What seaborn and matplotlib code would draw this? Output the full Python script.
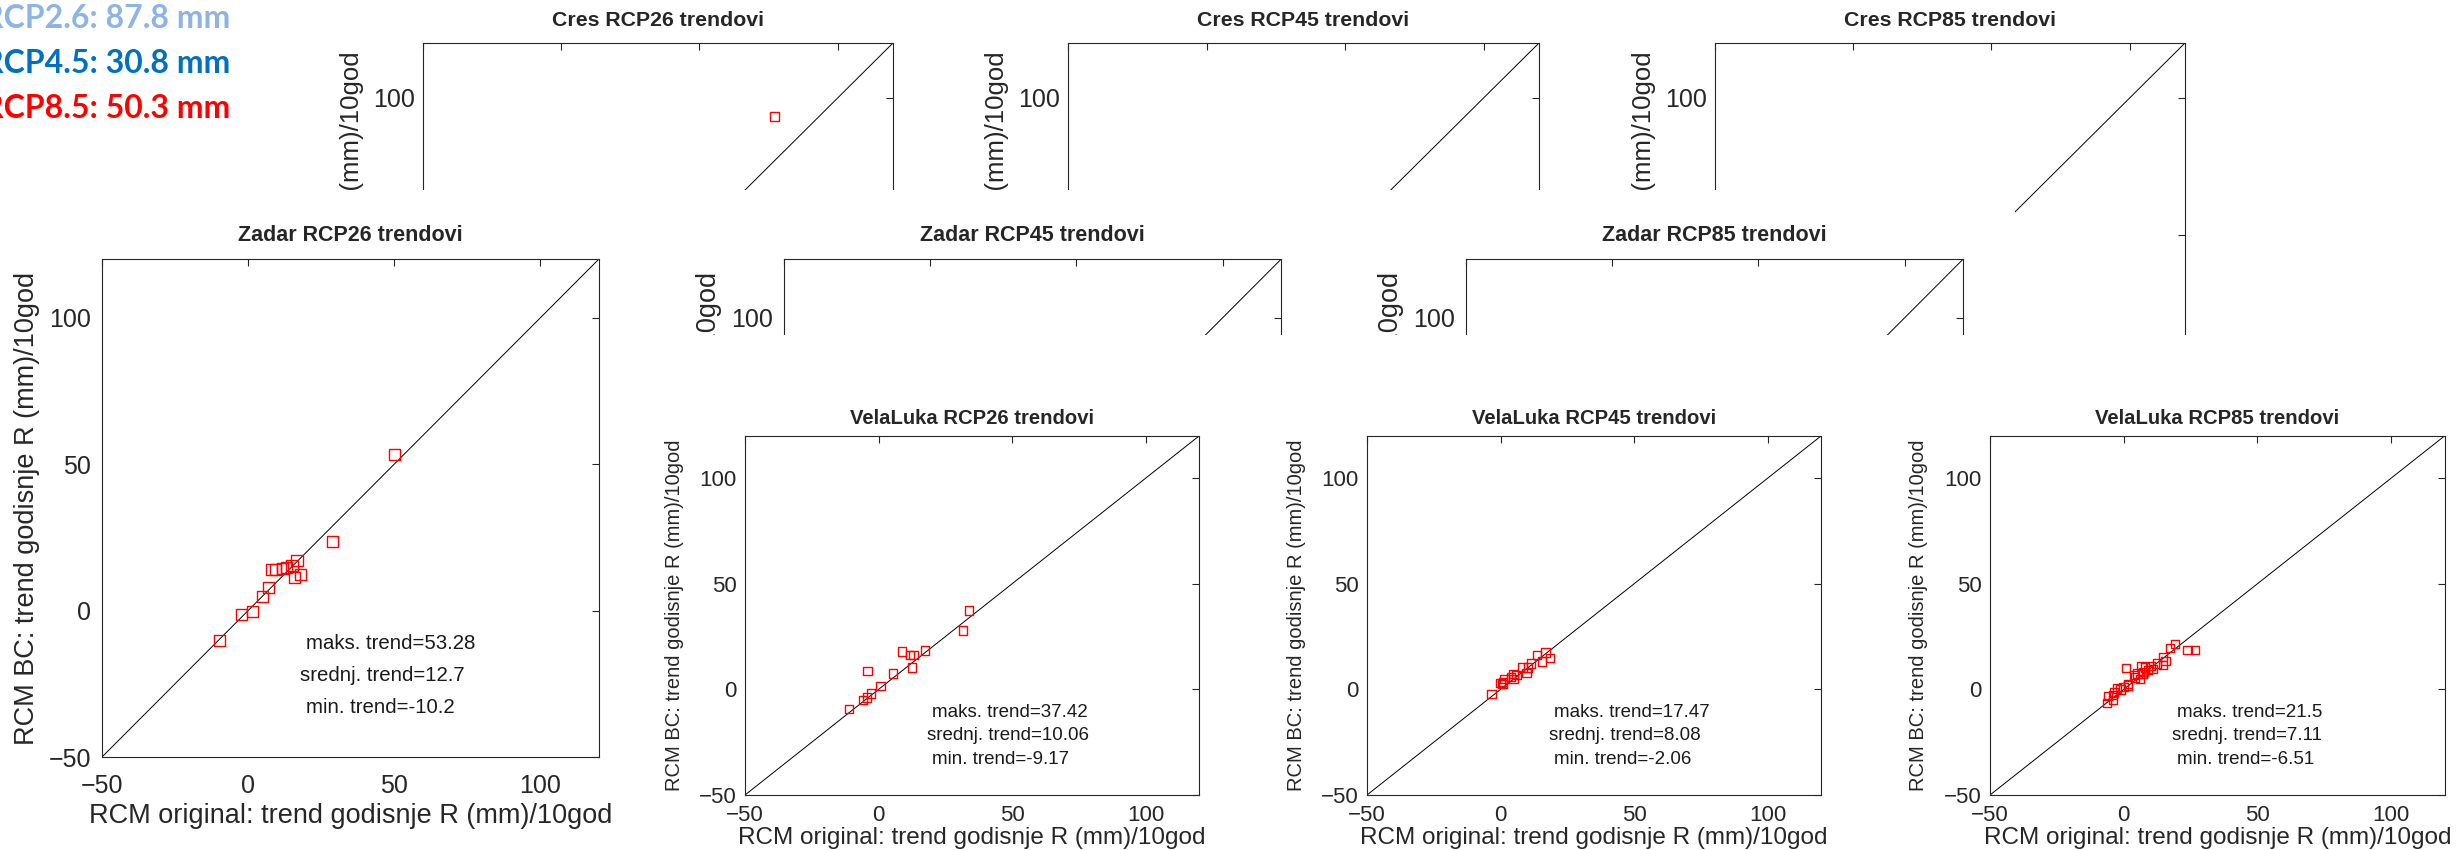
import matplotlib
matplotlib.use("Agg")
import matplotlib.pyplot as plt
import seaborn as sns

sns.set_style("white")
plt.rcParams["font.family"] = ["Liberation Sans", "DejaVu Sans"]

# figure size in pixels (dpi 100)
W, H = 2461, 850

# axis range and ticks shared by every panel
LIM = [-50, 120]
TICKS = [-50, 0, 50, 100]
XLABEL = "RCM original: trend godisnje R (mm)/10god"
YLABEL = "RCM BC: trend godisnje R (mm)/10god"

# text box in the upper left corner
rcp_names = ["RCP2.6", "RCP4.5", "RCP8.5"]
rcp_totals = [87.8, 30.8, 50.3]
rcp_colors = ["#8DB4E2", "#0070C0", "#FF0000"]

# Cres (only one marker is visible, the rest is covered)
cres26_x = [77.3]
cres26_y = [93.4]

# Zadar RCP26
zadar26_x = [50.3, 29.0, 16.8, 15.1, 18.1, 15.9, 13.1, 11.7, 9.5, 8.2, 7.2, 4.9, 1.7, -2.2, -9.8]
zadar26_y = [53.28, 23.8, 17.3, 15.6, 12.5, 11.3, 14.9, 14.4, 14.2, 14.2, 7.9, 5.0, -0.1, -1.3, -10.2]
zadar26_stats = [53.28, 12.7, -10.2]

# VelaLuka
vela26_x = [33.9, 31.7, 17.3, 8.9, 11.9, 13.1, 12.5, -4.1, 5.4, 0.8, -2.9, -4.4, -5.8, -11.1]
vela26_y = [37.42, 27.9, 18.5, 17.9, 16.3, 16.3, 10.3, 8.7, 7.6, 1.6, -1.9, -3.9, -5.0, -9.17]
vela26_stats = [37.42, 10.06, -9.17]

vela45_x = [-3.4, 0.05, 1.5, 0.8, 3.8, 4.9, 6.0, 8.2, 9.7, 11.5, 10.4, 13.7, 15.6, 16.8, 18.6, 4.8, 1.0]
vela45_y = [-2.06, 2.9, 4.8, 2.6, 6.0, 4.9, 6.8, 10.4, 7.9, 12.3, 10.4, 16.3, 13.2, 17.47, 15.0, 7.3, 3.5]
vela45_stats = [17.47, 8.08, -2.06]

vela85_x = [19.1, 17.4, 23.9, 26.8, 14.6, 15.6, 14.6, 12.4, 10.3, 8.1, 6.7, 0.9, 7.4, 5.2, 3.8,
            6.0, 4.3, 1.6, -0.1, -1.2, -2.4, -4.1, -5.8, -6.2, -4.1, 9.1, 11.0, 7.1, -3.5, 1.5]
vela85_y = [21.5, 19.7, 18.7, 18.7, 15.5, 13.5, 11.6, 12.3, 11.1, 10.4, 11.1, 10.0, 8.4, 7.6, 6.8,
            4.8, 5.6, 2.6, 1.0, 0.0, 0.5, -2.6, -3.1, -6.51, -5.0, 9.2, 9.8, 7.2, -1.5, 1.8]
vela85_stats = [21.5, 7.11, -6.51]

stat_names = ["maks. trend", "srednj. trend", "min. trend"]

# text sizes / offsets (pixels) for the three differently scaled figure rows
CRES = dict(tick=18, xl=18.5, yl=18.5, tt=15.3, ann=14, ms=42, xpad=11, ypad=5.8,
            xl_off=59, yl_off=71, t_off=23)
ZADAR = dict(tick=18, xl=19.5, yl=19.5, tt=15.5, ann=14.7, ms=64, xpad=12, ypad=7.6,
             xl_off=59, yl_off=75, t_off=24)
VELA = dict(tick=16, xl=17.5, yl=14.5, tt=14.6, ann=13.5, ms=36, xpad=7, ypad=5.8,
            xl_off=43, yl_off=71, t_off=18)

fig = plt.figure(figsize=(W / 100, H / 100), dpi=100)


def frac(l, t, w, h):
    return [l / W, 1 - (t + h) / H, w / W, h / H]


def cover(l, t, w, h):
    # white background of a pasted figure that hides what lies under it
    bg = fig.add_axes(frac(l, t, w, h))
    bg.set_xticks([])
    bg.set_yticks([])
    for s in bg.spines.values():
        s.set_visible(False)
    bg.set_facecolor("white")


def panel(box, title, xs, ys, stats, st, covered=False):
    l, t, w, h = box
    ax = fig.add_axes(frac(l, t, w, h))
    ax.set_facecolor("white")
    ax.plot(LIM, LIM, color="black", lw=0.7, zorder=1)
    if len(xs):
        sns.scatterplot(x=xs, y=ys, ax=ax, marker="s", s=st["ms"], facecolor="none",
                        edgecolor="red", linewidth=1.0, zorder=2)
    ax.set_xlim(LIM)
    ax.set_ylim(LIM)
    ax.set_xticks(TICKS)
    ax.set_yticks(TICKS)
    ax.tick_params(direction="in", top=True, right=True, length=5, width=0.8,
                   colors="#262626", labelsize=st["tick"])
    ax.tick_params(axis="x", pad=st["xpad"])
    ax.tick_params(axis="y", pad=st["ypad"])
    for s in ax.spines.values():
        s.set_color("#262626")
        s.set_linewidth(0.8)
    if covered:
        # lower part of this figure lies under the next row: only the top shows
        ax.set_xticklabels([])
        ax.set_yticklabels(["" if v < 100 else str(v) for v in TICKS])
    else:
        ax.set_xlabel(XLABEL, fontsize=st["xl"], color="#262626")
        ax.xaxis.set_label_coords(0.5, -st["xl_off"] / h)
        ax.xaxis.label.set_va("center")
    ax.set_ylabel(YLABEL, fontsize=st["yl"], color="#262626")
    ax.yaxis.set_label_coords(-st["yl_off"] / w, 0.5)
    ax.yaxis.label.set_va("center")
    ax.set_title(title, y=1 + st["t_off"] / h, pad=0, va="center",
                 fontsize=st["tt"], fontweight="bold")
    if stats:
        for name, v, tx, ty in zip(stat_names, stats, [20, 18, 20], [-11, -22, -33]):
            ax.text(tx, ty, f"{name}={v:g}", fontsize=st["ann"], color="#1a1a1a",
                    ha="left", va="center")
    return ax


# back row: Cres
panel((423, 43, 470, 467), "Cres RCP26 trendovi", cres26_x, cres26_y, None, CRES, True)
panel((1068, 43, 471, 467), "Cres RCP45 trendovi", [], [], None, CRES, True)
panel((1715, 43, 470, 467), "Cres RCP85 trendovi", [], [], None, CRES, True)

# middle row: Zadar
cover(0, 190, 640, 660)
panel((101.7, 259.3, 497, 498), "Zadar RCP26 trendovi", zadar26_x, zadar26_y, zadar26_stats, ZADAR)
cover(640, 190, 740, 660)
panel((784, 259.3, 497, 498), "Zadar RCP45 trendovi", [], [], None, ZADAR, True)
cover(1380, 190, 635, 660)
panel((1466, 259.3, 497, 498), "Zadar RCP85 trendovi", [], [], None, ZADAR, True)

# front row: VelaLuka
cover(640, 335, 622, 515)
panel((745, 436, 454, 359), "VelaLuka RCP26 trendovi", vela26_x, vela26_y, vela26_stats, VELA)
cover(1262, 335, 638, 515)
panel((1367, 436, 454, 359), "VelaLuka RCP45 trendovi", vela45_x, vela45_y, vela45_stats, VELA)
cover(1900, 335, 561, 515)
panel((1990, 436, 454.5, 359), "VelaLuka RCP85 trendovi", vela85_x, vela85_y, vela85_stats, VELA)

# totals text box, its left part runs off the slide
for i, (name, tot, col) in enumerate(zip(rcp_names, rcp_totals, rcp_colors)):
    fig.text(230 / W, 1 - (28 + 45 * i) / H, f"{name}: {tot} mm", ha="right", va="baseline",
             fontsize=23, fontweight="bold", family=["Lato", "DejaVu Sans"], color=col)

fig.savefig("out.png", dpi=100)
